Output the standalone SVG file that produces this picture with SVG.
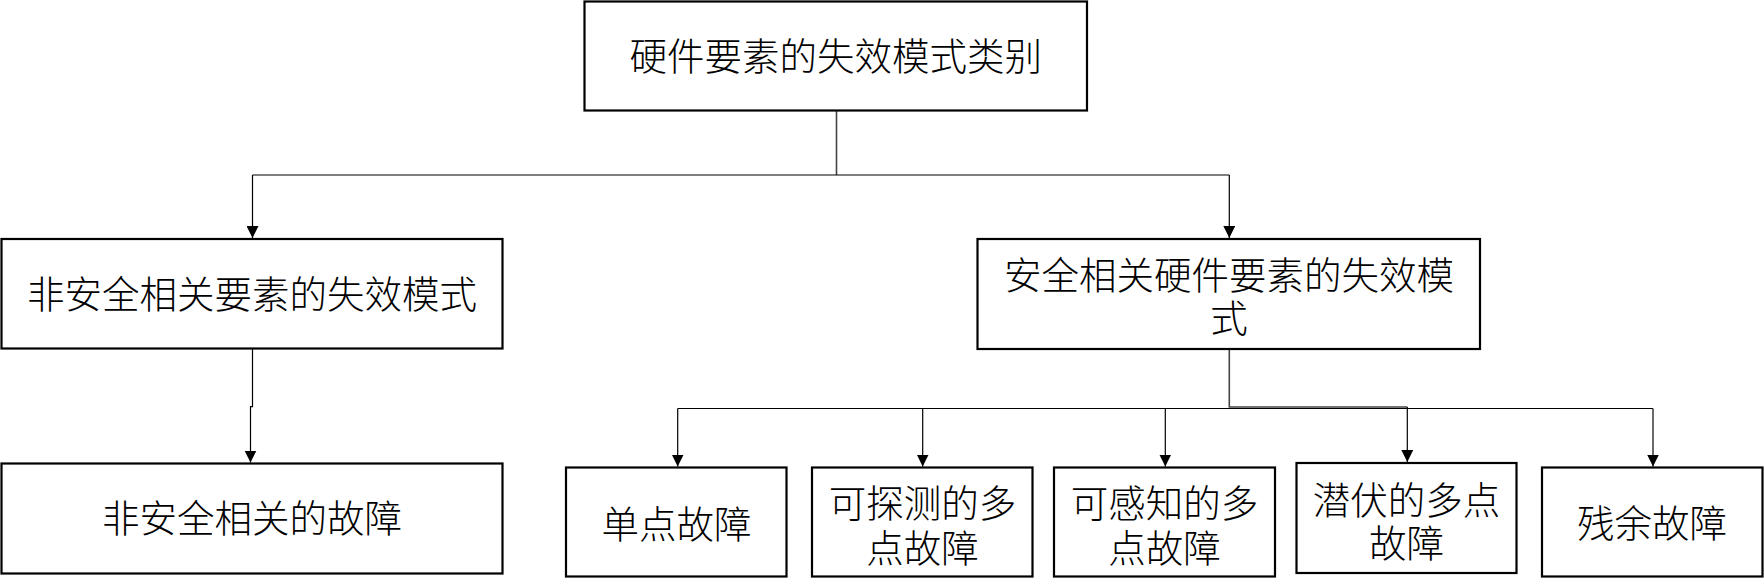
<svg xmlns="http://www.w3.org/2000/svg" width="1764" height="587" viewBox="0 0 1764 587">
  <style>
    .box { fill: #ffffff; stroke: #000000; stroke-width: 2.2; }
    .lbl { font-family: "Noto Sans CJK SC", "Liberation Serif", sans-serif; font-size: 37.5px; font-weight: 300; fill: #000000; text-anchor: middle; }
    .con { fill: none; stroke: #000000; stroke-width: 1.2; }
    .con2 { fill: none; stroke: #444444; stroke-width: 1.6; }
  </style>
  <defs>
    <marker id="arr" markerUnits="userSpaceOnUse" markerWidth="12" markerHeight="12" viewBox="0 0 12 12" refX="12" refY="6" orient="auto">
      <path d="M0,0 L12,6 L0,12 Z" fill="#000000"/>
    </marker>
  </defs>
  <rect width="1764" height="587" fill="#ffffff"/>

  <g id="connectors">
    <path class="con2" d="M836.5,110.5 L836.5,175"/>
    <path class="con" d="M252.5,175 L1229.3,175"/>
    <path class="con" d="M252.5,175 L252.5,238" marker-end="url(#arr)"/>
    <path class="con" d="M1229.3,175 L1229.3,238" marker-end="url(#arr)"/>
    <path class="con" d="M252.5,348.5 L252.5,406.7 L250.5,406.7 L250.5,462.5" marker-end="url(#arr)"/>
    <path class="con2" d="M1229.3,349 L1229.3,407 L1407.3,407"/>
    <path class="con" d="M1407.3,407 L1407.3,462" marker-end="url(#arr)"/>
    <path class="con" d="M677.7,408.5 L1653,408.5"/>
    <path class="con" d="M677.7,408.5 L677.7,466.5" marker-end="url(#arr)"/>
    <path class="con" d="M922.7,408.5 L922.7,466.5" marker-end="url(#arr)"/>
    <path class="con" d="M1165.3,408.5 L1165.3,466.5" marker-end="url(#arr)"/>
    <path class="con2" d="M1653,408.5 L1653,466.5" marker-end="url(#arr)"/>
  </g>

  <g id="n-root">
    <rect class="box" x="584.5" y="1.5" width="502.5" height="109"/>
    <text class="lbl" x="835.7" y="69.5">硬件要素的失效模式类别</text>
  </g>
  <g id="n-nonsafety-mode">
    <rect class="box" x="1.5" y="239" width="501" height="109.5"/>
    <text class="lbl" x="252" y="308">非安全相关要素的失效模式</text>
  </g>
  <g id="n-safety-mode">
    <rect class="box" x="977.5" y="239" width="502.5" height="110"/>
    <text class="lbl" x="1229" y="288.5">安全相关硬件要素的失效模<tspan x="1229" dy="43">式</tspan></text>
  </g>
  <g id="n-nonsafety-fault">
    <rect class="box" x="1.5" y="463.5" width="501" height="110"/>
    <text class="lbl" x="252" y="531.5">非安全相关的故障</text>
  </g>
  <g id="n-single">
    <rect class="box" x="566" y="467.5" width="220.5" height="109"/>
    <text class="lbl" x="676.5" y="537.5">单点故障</text>
  </g>
  <g id="n-detected">
    <rect class="box" x="812" y="467.5" width="220.5" height="109"/>
    <text class="lbl" x="922.5" y="516.5">可探测的多<tspan x="922.5" dy="45">点故障</tspan></text>
  </g>
  <g id="n-perceived">
    <rect class="box" x="1054" y="467.5" width="221" height="109"/>
    <text class="lbl" x="1164.5" y="516.5">可感知的多<tspan x="1164.5" dy="45">点故障</tspan></text>
  </g>
  <g id="n-latent">
    <rect class="box" x="1296.5" y="463" width="220" height="110"/>
    <text class="lbl" x="1406.5" y="513.5">潜伏的多点<tspan x="1406.5" dy="43">故障</tspan></text>
  </g>
  <g id="n-residual">
    <rect class="box" x="1542" y="467.5" width="220.5" height="109"/>
    <text class="lbl" x="1652" y="536.5">残余故障</text>
  </g>
</svg>
